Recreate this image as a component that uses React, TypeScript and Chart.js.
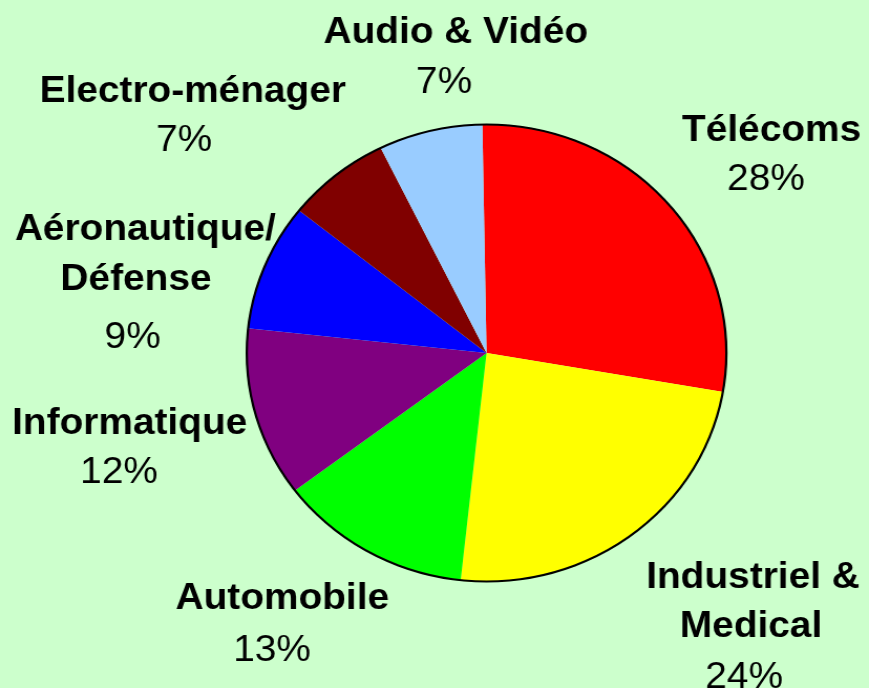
import React, { useEffect, useRef } from "react";
import { Chart, registerables } from "chart.js";

Chart.register(...registerables);

const categories: string[][] = [
  ["Télécoms"],
  ["Industriel &", "Medical"],
  ["Automobile"],
  ["Informatique"],
  ["Aéronautique/", "Défense"],
  ["Electro-ménager"],
  ["Audio & Vidéo"],
];
const shares: number[] = [28, 24, 13, 12, 9, 7, 7];
const sliceColors: string[] = [
  "#FF0000",
  "#FFFF00",
  "#00FF00",
  "#800080",
  "#0000FF",
  "#800000",
  "#99CCFF",
];

// Label line anchors (offsets from pie centre, in unstretched canvas px): name lines then percentage line
const labelLayout: number[][][] = [
  [[271.6, -212], [266.3, -163]],
  [[253.9, 235.3], [252.0, 283.7], [245.4, 335.4]],
  [[-194.6, 256.3], [-204.4, 307.7]],
  [[-340.0, 81.3], [-350.2, 130.3]],
  [[-325.1, -113], [-334.0, -63], [-337.3, -5]],
  [[-279.9, -251], [-288.2, -202]],
  [[-29.3, -309.7], [-40.5, -260.3]],
];

const STRETCH = 1.0495;
const CANVAS_W = 828;
const CANVAS_H = 688;
const FONT = '"Liberation Sans", Arial, sans-serif';

const labelPlugin = {
  id: "pieLabels",
  afterDatasetsDraw(chart: any) {
    const meta = chart.getDatasetMeta(0);
    if (!meta.data.length) return;
    const arc0 = meta.data[0] as any;
    const cx = arc0.x;
    const cy = arc0.y;
    const r = arc0.outerRadius;
    const ctx = chart.ctx;
    ctx.save();
    ctx.beginPath();
    ctx.arc(cx, cy, r - 0.5, 0, Math.PI * 2);
    ctx.lineWidth = 2.2;
    ctx.strokeStyle = "#000000";
    ctx.stroke();
    ctx.fillStyle = "#000000";
    ctx.textAlign = "center";
    ctx.textBaseline = "alphabetic";
    categories.forEach((lines, i) => {
      const pos = labelLayout[i];
      lines.forEach((ln, j) => {
        ctx.font = `bold 37px ${FONT}`;
        ctx.fillText(ln, cx + pos[j][0], cy + pos[j][1]);
      });
      const p = pos[lines.length];
      ctx.font = `37px ${FONT}`;
      ctx.fillText(`${shares[i]}%`, cx + p[0], cy + p[1]);
    });
    ctx.restore();
  },
};

export default function App() {
  const ref = useRef<HTMLCanvasElement | null>(null);
  useEffect(() => {
    if (!ref.current) return;
    const chart = new Chart(ref.current, {
      type: "pie",
      data: {
        labels: categories.map((c) => c.join(" ")),
        datasets: [
          {
            data: shares,
            backgroundColor: sliceColors,
            borderColor: sliceColors,
            borderWidth: 0,
          },
        ],
      },
      options: {
        animation: false,
        responsive: false,
        rotation: -1,
        layout: { padding: { top: 124, bottom: 106, left: 234.6, right: 135.4 } },
        plugins: {
          legend: { display: false },
          tooltip: { enabled: false },
        },
      },
      plugins: [labelPlugin],
    });
    return () => chart.destroy();
  }, []);
  return (
    <div
      style={{
        position: "fixed",
        left: 0,
        top: 0,
        width: 869,
        height: 688,
        background: "#CCFFCC",
        overflow: "hidden",
      }}
    >
      <div style={{ transform: `scaleX(${STRETCH})`, transformOrigin: "0 0", width: CANVAS_W, height: CANVAS_H }}>
        <canvas
          ref={ref}
          width={CANVAS_W}
          height={CANVAS_H}
          style={{ display: "block", width: CANVAS_W, height: CANVAS_H }}
        />
      </div>
    </div>
  );
}
